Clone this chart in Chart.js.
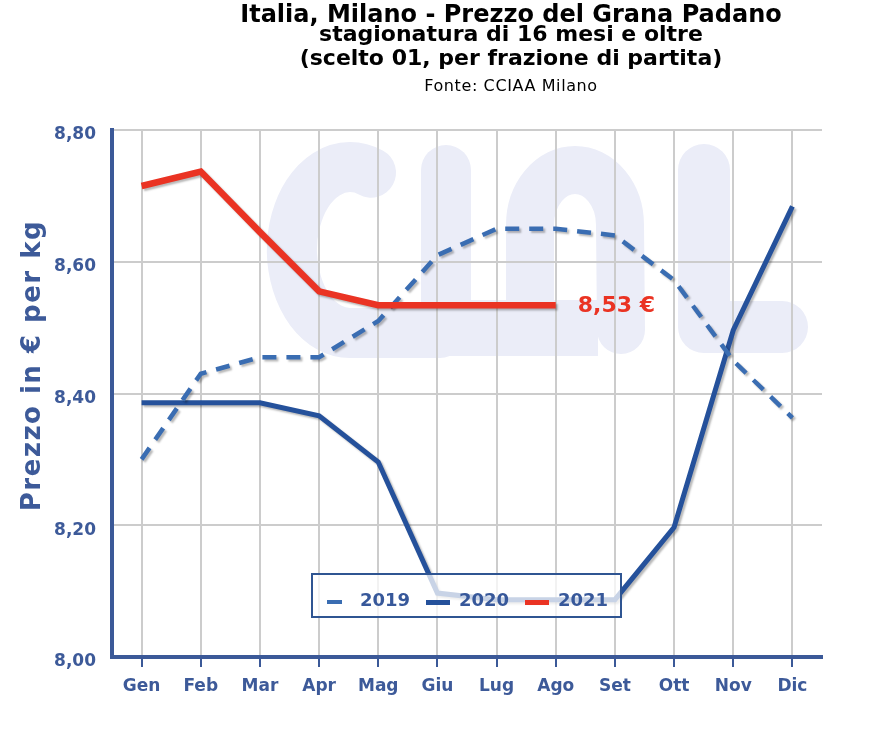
<!DOCTYPE html>
<html>
<head>
<meta charset="utf-8">
<script src="https://cdn.jsdelivr.net/npm/chart.js@4"></script>
<style>
  html, body { margin: 0; padding: 0; background: #fff; }
  #wrap { position: relative; width: 882px; height: 752px; }
  #chart { position: absolute; left: 0; top: 0; }
  .t { position: absolute; left: 0; width: 1022px; text-align: center; font-family: "DejaVu Sans", sans-serif; color: #000; white-space: nowrap; font-weight: bold; }
  .t1 { top: 1px; font-size: 24px; line-height: 26px; }
  .t2 { top: 22px; font-size: 22px; line-height: 24px; }
  .t3 { top: 46px; font-size: 22px; line-height: 24px; }
  .t4 { top: 76px; font-size: 16px; line-height: 20px; font-weight: normal; letter-spacing: 0.6px; }
  #legend { position: absolute; left: 311px; top: 573px; width: 307px; height: 41px; border: 2px solid #2f5592;
            background: rgba(255,255,255,0.75); font-family: "DejaVu Sans", sans-serif; font-weight: bold; font-size: 18px; color: #37589a; }
  #legend span { position: absolute; top: 14px; }
  #legend i { position: absolute; top: 25px; height: 5px; }
</style>
</head>
<body>
<div id="wrap">
  <canvas id="chart" width="882" height="752"></canvas>
  <div class="t t1">Italia, Milano - Prezzo del Grana Padano</div>
  <div class="t t2">stagionatura di 16 mesi e oltre</div>
  <div class="t t3">(scelto 01, per frazione di partita)</div>
  <div class="t t4">Fonte: CCIAA Milano</div>
  <div id="legend"></div>
</div>
<script>
const months = ["Gen", "Feb", "Mar", "Apr", "Mag", "Giu", "Lug", "Ago", "Set", "Ott", "Nov", "Dic"]
const years = ["2019", "2020", "2021"]
const price2019 = [8.30, 8.43, 8.455, 8.455, 8.51, 8.61, 8.65, 8.65, 8.64, 8.572, 8.45, 8.363]
const price2020 = [8.386, 8.386, 8.386, 8.366, 8.296, 8.097, 8.087, 8.087, 8.087, 8.197, 8.496, 8.684]
const price2021 = [8.715, 8.737, 8.645, 8.555, 8.534, 8.534, 8.534, 8.534, null, null, null, null]
const yTicks = [8.0, 8.2, 8.4, 8.6, 8.8]
const yTitle = "Prezzo in € per kg"

const blue = "#3b5998"
const textBlue = "#3d5a99"
const colors = ["#3a6db2", "#25519b", "#ea3323"]

// legend box (inside the plot, semi-transparent like the original)
const legendEl = document.querySelector("#legend")
const legendPos = [[14, 47], [113, 146], [212, 245]]
years.forEach((y, i) => {
    const sw = document.createElement("i")
    sw.style.left = legendPos[i][0] + "px"
    sw.style.width = (i === 0 ? 15 : 24) + "px"
    sw.style.background = colors[i]
    if (i === 0) { sw.style.height = "4px" }
    legendEl.appendChild(sw)
    const lab = document.createElement("span")
    lab.style.left = legendPos[i][1] + "px"
    lab.textContent = y
    legendEl.appendChild(lab)
})

// faint CLAL logo, under the grid
const watermark = {
    id: "watermark",
    beforeDraw(chart) {
        const { ctx, chartArea: a } = chart
        const sx = (a.right - a.left) / 710, sy = (a.bottom - a.top) / 527
        const X = v => a.left + (v - 112) * sx
        const Y = v => a.top + (v - 130) * sy
        ctx.save()
        ctx.strokeStyle = "#ebedf8"
        ctx.fillStyle = "#ebedf8"
        ctx.lineCap = "round"
        ctx.lineJoin = "round"
        ctx.lineWidth = 50
        // C
        ctx.beginPath()
        ctx.ellipse(X(350), Y(250), 58 * sx, 83 * sy, 0, -1.2, 1.5707, true)
        ctx.lineTo(X(440), Y(333))
        ctx.stroke()
        // I
        ctx.beginPath()
        ctx.moveTo(X(446), Y(170))
        ctx.lineTo(X(446), Y(330))
        ctx.stroke()
        // arch
        ctx.lineWidth = 48
        ctx.beginPath()
        ctx.moveTo(X(530), Y(300))
        ctx.lineTo(X(530), Y(225))
        ctx.ellipse(X(575), Y(225), 45 * sx, 55 * sy, 0, Math.PI, 0, false)
        ctx.lineTo(X(621), Y(330))
        ctx.stroke()
        ctx.fillRect(X(446), Y(300), X(598) - X(446), Y(356) - Y(300))
        // L
        ctx.lineWidth = 52
        ctx.beginPath()
        ctx.moveTo(X(704), Y(170))
        ctx.lineTo(X(704), Y(327))
        ctx.lineTo(X(782), Y(327))
        ctx.stroke()
        ctx.restore()
    }
}

// rotated axis title, sits a bit above the middle of the plot like the original
const axisTitle = {
    id: "axisTitle",
    afterDraw(chart) {
        const { ctx, chartArea: a } = chart
        ctx.save()
        ctx.translate(33, a.top + (a.bottom - a.top) * 0.447)
        ctx.rotate(-Math.PI / 2)
        ctx.fillStyle = textBlue
        ctx.font = "bold 26px 'DejaVu Sans'"
        ctx.letterSpacing = "1.5px"
        ctx.textAlign = "center"
        ctx.textBaseline = "middle"
        ctx.fillText(yTitle, 0, 0)
        ctx.restore()
    }
}

const shadow = {
    id: "shadow",
    beforeDatasetDraw(chart) {
        const ctx = chart.ctx
        ctx.save()
        ctx.shadowColor = "rgba(0,0,0,0.28)"
        ctx.shadowOffsetX = 2
        ctx.shadowOffsetY = 2
        ctx.shadowBlur = 2
    },
    afterDatasetDraw(chart) {
        chart.ctx.restore()
    }
}

// "8,53 €" next to the latest 2021 value
const lastLabel = {
    id: "lastLabel",
    afterDatasetsDraw(chart) {
        const meta = chart.getDatasetMeta(2)
        const data = chart.data.datasets[2].data
        let idx = -1
        data.forEach((v, i) => { if (v !== null) idx = i })
        if (idx < 0) return
        const pt = meta.data[idx]
        const ctx = chart.ctx
        ctx.save()
        ctx.fillStyle = colors[2]
        ctx.font = "bold 22px 'DejaVu Sans'"
        ctx.textBaseline = "middle"
        ctx.fillText(data[idx].toFixed(2).replace(".", ",") + " €", pt.x + 22, pt.y + 1)
        ctx.restore()
    }
}

const ctx = document.querySelector("#chart").getContext("2d")

new Chart(ctx, {
    type: "line",
    data: {
        labels: months,
        datasets: [
            { label: years[0], data: price2019, borderColor: colors[0], borderWidth: 4.5, borderDash: [14, 10], order: 1 },
            { label: years[1], data: price2020, borderColor: colors[1], borderWidth: 5, order: 2 },
            { label: years[2], data: price2021, borderColor: colors[2], borderWidth: 6.5, order: 0 }
        ]
    },
    options: {
        responsive: false,
        animation: false,
        events: [],
        elements: {
            point: { radius: 0 },
            line: { tension: 0, fill: false, borderJoinStyle: "miter", borderCapStyle: "butt" }
        },
        layout: { padding: { top: 130, right: 60, bottom: 35, left: 0 } },
        plugins: {
            legend: { display: false },
            title: { display: false },
            tooltip: { enabled: false }
        },
        scales: {
            x: {
                offset: true,
                afterFit: (scale) => { scale.height = 60 },
                grid: { offset: false, color: "#cccccc", lineWidth: 2, tickColor: blue, tickLength: 10, tickWidth: 2 },
                border: { color: blue, width: 4 },
                ticks: { color: textBlue, padding: 9, font: { family: "DejaVu Sans", size: 17, weight: "bold" } }
            },
            y: {
                min: 8.0,
                max: 8.8,
                afterFit: (scale) => { scale.width = 112 },
                afterBuildTicks: (scale) => { scale.ticks = yTicks.map(v => ({ value: v })) },
                grid: { color: "#cccccc", lineWidth: 2, drawTicks: false },
                border: { color: blue, width: 4 },
                ticks: {
                    color: textBlue,
                    padding: 16,
                    labelOffset: 5,
                    font: { family: "DejaVu Sans", size: 17, weight: "bold" },
                    callback: (v) => v.toFixed(2).replace(".", ",")
                }
            }
        }
    },
    plugins: [watermark, axisTitle, shadow, lastLabel]
})
</script>
</body>
</html>
